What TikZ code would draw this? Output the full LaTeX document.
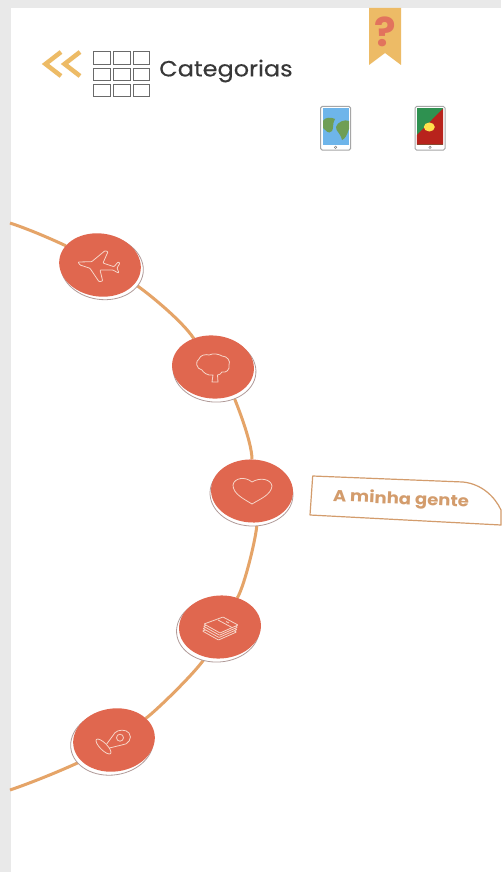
\documentclass[tikz,border=0pt]{standalone}
\usepackage{fontspec}
\setmainfont{Poppins}
\usetikzlibrary{shapes.geometric}
\pgfdeclarelayer{arcs}
\pgfdeclarelayer{unders}
\pgfsetlayers{arcs,unders,main}
\definecolor{bgrey}{HTML}{E9E9E9}
\definecolor{coral}{HTML}{E0674F}
\definecolor{arcline}{HTML}{E5A468}
\definecolor{gold}{HTML}{EDBB66}
\definecolor{boxgrey}{HTML}{6A6A6A}
\definecolor{labelc}{HTML}{D39C6C}
\definecolor{edge}{HTML}{B09A98}
\definecolor{iconline}{HTML}{F6D5C8}
\definecolor{sea}{HTML}{6EB5EA}
\definecolor{land}{HTML}{6F9E55}
\definecolor{flaggreen}{HTML}{2E9150}
\definecolor{flagred}{HTML}{B8231C}
\definecolor{flagyellow}{HTML}{FFE14D}
\tikzset{
  x=1pt,y=-1pt,
  disc/.style={ellipse,fill=coral,minimum width=82pt,minimum height=63pt,inner sep=0pt,outer sep=0pt},
  arcseg/.style={draw=arcline,line width=3pt},
  icon/.style={draw=iconline,line width=.8pt,line join=round},
  cell/.style={draw=boxgrey,line width=1.2pt,fill=white,minimum width=16.5pt,minimum height=12.5pt,inner sep=0pt},
  tabletbody/.style={draw=gray!70,line width=1pt,fill=white,rounded corners=1.5pt},
}
\begin{document}
\begin{tikzpicture}
\useasboundingbox (0,0) rectangle (501,872);
\begin{pgfonlayer}{arcs}
\fill[bgrey] (0,0) rectangle (501,872);
\fill[white] (10.5,8) rectangle (501,872);
\end{pgfonlayer}

\coordinate (arcstart) at (10,223);
\coordinate (arcend) at (10,790);
% discs
\node[disc,rotate=-8] (plane) at (100,265) {};
\node[disc,rotate=-5] (tree) at (213,367) {};
\node[disc,rotate=-3] (heart) at (252,491) {};
\node[disc,rotate=4] (book) at (220,627) {};
\node[disc,rotate=8] (pin) at (114,740) {};
\begin{pgfonlayer}{unders}
\foreach \cx/\cy/\dx/\dy/\ang in {100/265/2/2.5/-8,213/367/1.5/3/-5,252/491/-0.5/3/-3,220/627/-2/3/4,114/740/-2/3/8}{
  \fill[white,draw=edge,line width=.8pt,rotate around={\ang:(\cx+\dx,\cy+\dy)}] (\cx+\dx,\cy+\dy) ellipse (41.5 and 32);
}
\end{pgfonlayer}

% arc
\begin{pgfonlayer}{arcs}
\draw[arcseg] (arcstart) .. controls (40,233) and (70,248) .. (plane);
\draw[arcseg] (plane) .. controls (140,287) and (180,318) .. (tree);
\draw[arcseg] (tree) .. controls (233,395) and (252,440) .. (heart);
\draw[arcseg] (heart) .. controls (258,530) and (245,585) .. (book);
\draw[arcseg] (book) .. controls (200,668) and (155,712) .. (pin);
\draw[arcseg] (pin) .. controls (80,762) and (45,778) .. (arcend);
\end{pgfonlayer}

% plane icon
\draw[icon,rounded corners=.8pt] (78,262) -- (91.7,261.7) -- (105,250.7) -- (108,251.7) -- (103,263) -- (114,266.7) -- (118,262) -- (120,263) -- (117,268) -- (119,272.7) -- (117.7,272.7) -- (113,270) -- (100,270) -- (102.7,281) -- (99,281.7) -- (90,268.3) -- (80,265) -- cycle;
% tree icon
\draw[icon] (212,382) -- (213,375) .. controls (207,376) and (203,372) .. (202,370) .. controls (196,369) and (195,361) .. (199,359) .. controls (200,355) and (206,354) .. (209,355) .. controls (213,353) and (219,354) .. (222,356) .. controls (227,356) and (231,361) .. (229,365) .. controls (230,370) and (226,373) .. (222,372) .. controls (221,374) and (219,375) .. (217.5,375) -- (218,382) -- cycle;
% heart icon
\draw[icon] (252,504) .. controls (244,499) and (233,494) .. (233,485) .. controls (234,478) and (245,476) .. (252,482) .. controls (260,477) and (271,479) .. (272,486) .. controls (271,495) and (260,499) .. (252,504) -- cycle;
% book icon
\foreach \dx/\dy in {-1.5/7,-1/4.5,-.5/2.2,0/0}{
  \draw[icon,fill=coral,shift={(\dx,\dy)},rounded corners=.5pt] (204,624) -- (223,617) -- (238,625) -- (220,633) -- cycle;
}
\draw[icon] (218,620) -- (232,627.5);
\draw[icon] (226,621.5) -- (229,623);
% pin icon
\draw[icon] (106.7,744) -- (115,732.7) .. controls (118,729.5) and (126,729) .. (129,733) .. controls (133,738) and (128,745) .. (121.7,745) -- (109.3,748);
\draw[icon] (120,737.7) circle (3.5);
\draw[icon,fill=coral,rotate around={-45:(103.5,746.5)}] (103.5,746.5) ellipse (10 and 3.5);

% label tab
\draw[draw=labelc,line width=1.2pt,line join=round,fill=white] (312.7,476) -- (463,482) .. controls (482,484) and (495,497) .. (501,510) -- (501,525) -- (310,515) -- cycle;
\node[text=labelc,font=\bfseries\fontsize{16}{18}\selectfont,rotate=-2.5,xscale=1.13,inner sep=0pt] (tablabel) at (401,500) {A minha gente};

% header
\draw[gold,line width=4.5pt,line join=miter] (61,52) -- (45.5,64) -- (61,76);
\draw[gold,line width=4.5pt,line join=miter] (80,52) -- (64.5,64) -- (80,76);
\foreach \r/\yy in {a/58,b/74.5,c/90.5}{
  \foreach \c/\xx in {1/102,2/122,3/141.5}{
    \node[cell] (g\r\c) at (\xx,\yy) {};
  }
}
\node[text=black!78,font=\addfontfeature{FakeBold=0.25}\fontsize{22}{24}\selectfont,anchor=west,xscale=1.09,inner sep=0pt] (title) at (159,71) {Categorias};

% bookmark
\fill[gold] (369,8) -- (401,8) -- (401,65) -- (385,53) -- (369,65) -- cycle;
\node[text=coral!92!white,font=\bfseries\fontsize{40}{42}\selectfont,inner sep=0pt] (qmark) at (385,32) {?};

% tablet 1
\draw[tabletbody] (320.7,106.5) rectangle (350.7,150);
\fill[sea] (322.7,108.5) rectangle (349,144.5);
\fill[land] (323,121) .. controls (325,117) and (331,117) .. (335,119) .. controls (332,124) and (334,128) .. (332,131) .. controls (328,135) and (326,130) .. (323,128) -- cycle;
\fill[land] (336,127) .. controls (337,122) and (345,119) .. (349,121) -- (349,129) .. controls (347,135) and (345,139) .. (342,140) .. controls (340,132) and (336,132) .. (336,127) -- cycle;
\draw[gray,line width=.5pt] (335.5,147.3) circle (1.2);

% tablet 2
\draw[tabletbody] (415,106.5) rectangle (445,150);
\fill[flaggreen] (416.8,108.5) rectangle (443.2,144.5);
\fill[flagred] (416.8,144.5) -- (416.8,135) -- (443.2,108.5) -- (443.2,144.5) -- cycle;
\fill[flagyellow] (429.3,127) ellipse (5.5 and 4.5);
\draw[gray,line width=.5pt] (430,147.3) circle (1.2);
\end{tikzpicture}
\end{document}
